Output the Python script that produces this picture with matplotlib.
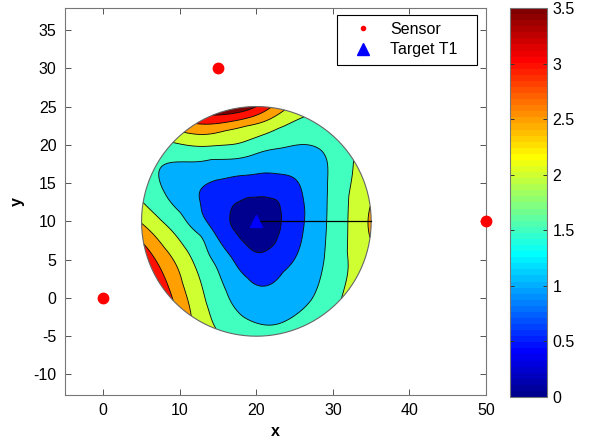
import numpy as np
import matplotlib
matplotlib.use('Agg')
import matplotlib.pyplot as plt
from matplotlib.colors import ListedColormap, Normalize
from matplotlib.lines import Line2D
from matplotlib.patches import Rectangle
import matplotlib.cm as cm

plt.rcParams['font.family'] = ['Liberation Sans', 'DejaVu Sans']
plt.rcParams['axes.unicode_minus'] = False

# ---------------- data ----------------
sensor_x = [0, 15, 50]
sensor_y = [0, 30, 10]
target_x = [20]
target_y = [10]
region_radius = 15

# polar sampling of the error field around the target
angles_deg = [0, 15, 30, 45, 60, 75, 90, 105, 120, 135, 150, 165,
              180, 195, 210, 225, 240, 255, 270, 285, 300, 315, 330, 345]
radii = [0, 2.5, 5, 7.5, 10, 12.5, 15]
center_value = 0.0
# rows: angles, columns: radii 2.5 .. 15
field_values = [
    [0.38, 0.78, 1.21, 1.64, 2.10, 2.58],
    [0.36, 0.75, 1.16, 1.57, 2.00, 2.35],
    [0.34, 0.70, 1.08, 1.40, 1.73, 2.05],
    [0.32, 0.66, 1.00, 1.25, 1.50, 1.75],
    [0.35, 0.71, 1.06, 1.33, 1.60, 1.85],
    [0.37, 0.76, 1.15, 1.53, 1.95, 2.45],
    [0.39, 0.80, 1.22, 1.74, 2.40, 3.50],
    [0.38, 0.78, 1.23, 1.88, 2.52, 3.75],
    [0.38, 0.74, 1.13, 1.63, 2.30, 3.10],
    [0.37, 0.69, 0.99, 1.35, 1.72, 2.10],
    [0.36, 0.66, 0.92, 1.15, 1.37, 1.55],
    [0.36, 0.69, 1.00, 1.28, 1.55, 1.80],
    [0.36, 0.73, 1.18, 1.67, 2.03, 2.45],
    [0.37, 0.81, 1.50, 1.95, 2.48, 3.12],
    [0.39, 0.89, 1.52, 2.05, 2.63, 3.25],
    [0.39, 0.89, 1.45, 1.91, 2.36, 2.95],
    [0.37, 0.83, 1.28, 1.65, 1.96, 2.30],
    [0.34, 0.71, 1.07, 1.34, 1.61, 1.90],
    [0.31, 0.62, 0.92, 1.17, 1.41, 1.70],
    [0.31, 0.61, 0.92, 1.16, 1.38, 1.65],
    [0.31, 0.65, 1.01, 1.23, 1.46, 1.75],
    [0.33, 0.70, 1.07, 1.33, 1.61, 1.95],
    [0.36, 0.76, 1.14, 1.47, 1.85, 2.15],
    [0.37, 0.79, 1.20, 1.60, 2.03, 2.35],
]
contour_levels = [0.5, 1.0, 1.5, 2.0, 2.5, 3.0, 3.5]
cbar_ticks = [0, 0.5, 1, 1.5, 2, 2.5, 3, 3.5]
cbar_labels = ['0', '0.5', '1', '1.5', '2', '2.5', '3', '3.5']
color_limits = (0, 3.5)
legend_labels = ['Sensor', 'Target T1']


# ---------------- MATLAB jet(64) ----------------
def matlab_jet(m=64):
    n = int(np.ceil(m / 4))
    u = np.concatenate([np.arange(1, n + 1) / n, np.ones(n - 1), np.arange(n, 0, -1) / n])
    g = int(np.ceil(n / 2)) - (1 if m % 4 == 1 else 0) + np.arange(1, len(u) + 1)
    r = g + n
    b = g - n
    g = g[g <= m]
    r = r[r <= m]
    b = b[b >= 1]
    J = np.zeros((m, 3))
    J[r - 1, 0] = u[:len(r)]
    J[g - 1, 1] = u[:len(g)]
    J[b - 1, 2] = u[len(u) - len(b):]
    return J


jet64 = matlab_jet(64)
cmap = ListedColormap(jet64)


def level_color(v):
    idx = int(np.floor((v - color_limits[0]) / (color_limits[1] - color_limits[0]) * 64))
    idx = min(max(idx, 0), 63)
    return jet64[idx]


# ---------------- build smooth polar surface for drawing ----------------
vals = np.array(field_values)
n_ang = len(angles_deg)
full = np.hstack([np.full((n_ang, 1), center_value), vals])
n_up = 360
F = np.fft.rfft(full, axis=0)
F[-1] *= 0.5
up = np.fft.irfft(F, n=n_up, axis=0) * (n_up / n_ang)
r_fine = np.linspace(0, region_radius, 61)
Z = np.array([np.interp(r_fine, radii, row) for row in up])
Z = np.vstack([Z, Z[:1]])
th = np.deg2rad(np.linspace(0, 360, n_up + 1))
TH, RR = np.meshgrid(th, r_fine, indexing='ij')
X = target_x[0] + RR * np.cos(TH)
Y = target_y[0] + RR * np.sin(TH)

# ---------------- figure ----------------
W, H = 589, 448
fig = plt.figure(figsize=(W / 100, H / 100), dpi=100)
ax = fig.add_axes([65 / W, 1 - 395 / H, 421 / W, 387 / H])

fill_levels = [-10] + contour_levels + [100]
fill_colors = [level_color(v) for v in [0] + contour_levels]
ax.contourf(X, Y, Z, levels=fill_levels, colors=fill_colors, antialiased=True)
ax.contour(X, Y, Z, levels=contour_levels, colors='k', linewidths=0.6)
ax.plot(X[:, -1], Y[:, -1], color='#666666', lw=0.8)
ax.plot([target_x[0], target_x[0] + region_radius], [target_y[0], target_y[0]],
        color='k', lw=0.9)

ax.plot(sensor_x, sensor_y, 'o', color='red', ms=7.5, mec='red', clip_on=False, zorder=5)
ax.plot(target_x, target_y, '^', color='blue', ms=9, mec='blue', zorder=6)

ax.set_xlim(-5, 50)
ax.set_ylim(-12.68, 37.87)
ax.set_xticks([0, 10, 20, 30, 40, 50])
ax.set_yticks([-10, -5, 0, 5, 10, 15, 20, 25, 30, 35])
ax.tick_params(direction='in', length=4, width=0.7, top=True, right=True,
               labelsize=11.5, color='#555555', pad=6)
for s in ax.spines.values():
    s.set_color('#777777')
    s.set_linewidth(0.8)
ax.set_xlabel('x', fontsize=11.5, fontweight='bold', labelpad=4)
ax.set_ylabel('y', fontsize=11.5, fontweight='bold', labelpad=6)

# legend: frame drawn separately to match MATLAB padding
fig.patches.append(Rectangle((337 / W, 1 - 65 / H), 140 / W, 50 / H,
                             transform=fig.transFigure, fill=True, facecolor='white',
                             edgecolor='black', lw=0.8, zorder=10))
handles = [Line2D([], [], marker='.', color='red', ls='none', ms=6),
           Line2D([], [], marker='^', color='blue', ls='none', ms=9)]
leg = fig.legend(handles, legend_labels, loc='upper left',
                 bbox_to_anchor=(347 / W, 1 - 22 / H), bbox_transform=fig.transFigure,
                 borderaxespad=0, borderpad=0, fontsize=11.5, frameon=False,
                 handlelength=2.0, handletextpad=0.7, labelspacing=0.33)
leg.set_zorder(11)

cax = fig.add_axes([510 / W, 1 - 397 / H, 37 / W, 389 / H])
sm = cm.ScalarMappable(norm=Normalize(*color_limits), cmap=cmap)
cb = fig.colorbar(sm, cax=cax, ticks=cbar_ticks)
cb.ax.set_yticklabels(cbar_labels)
cb.ax.tick_params(labelsize=11.5, direction='in', length=3, width=0.7,
                  left=True, right=True, color='#333333', pad=4)
cb.outline.set_edgecolor('#777777')
cb.outline.set_linewidth(0.8)

fig.savefig('out.png', dpi=100)
